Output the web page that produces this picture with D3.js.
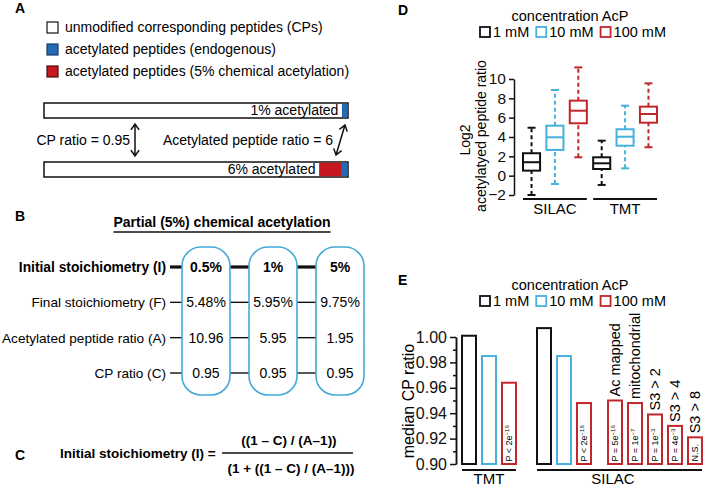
<!DOCTYPE html>
<html>
<head>
<meta charset="utf-8">
<script src="https://cdn.jsdelivr.net/npm/d3@7"></script>
<style>
  body { margin: 0; background: #fff; }
  svg { font-family: "Liberation Sans", Arial, sans-serif; }
</style>
</head>
<body>
<svg id="figure" width="706" height="490"></svg>
<script>
// panel A data
const legendA = ["unmodified corresponding peptides (CPs)", "acetylated peptides (endogenous)", "acetylated peptides (5% chemical acetylation)"];
const barLabelsA = ["1% acetylated", "6% acetylated"];
const endogenousA = [2, 2];   // schematic share of bar, %
const chemicalA = [0, 7.5];
const cpRatioText = "CP ratio = 0.95";
const acRatioText = "Acetylated peptide ratio = 6";

// panel B data
const titleB = "Partial (5%) chemical acetylation";
const rowLabelsB = ["Initial stoichiometry (I)", "Final stoichiometry (F)", "Acetylated peptide ratio (A)", "CP ratio (C)"];
const initialB = ["0.5%", "1%", "5%"];
const finalB = ["5.48%", "5.95%", "9.75%"];
const ratioB = ["10.96", "5.95", "1.95"];
const cpB = ["0.95", "0.95", "0.95"];

// panel C text
const formulaLeft = "Initial stoichiometry (I) =";
const formulaTop = "((1 \u2013 C) / (A\u20131))";
const formulaBottom = "(1 + ((1 \u2013 C) / (A\u20131)))";

// panel D data (SILAC 1/10/100 mM, TMT 1/10/100 mM)
const methodsD = ["SILAC", "TMT"];
const concLabels = ["1 mM", "10 mM", "100 mM"];
const whiskerLowD = [-2.0, -0.86, 1.9, -0.96, 0.76, 2.94];
const q1D = [0.52, 2.66, 5.42, 0.69, 3.1, 5.48];
const medianD = [1.39, 3.97, 6.72, 1.28, 4.03, 6.38];
const q3D = [2.32, 5.17, 7.76, 1.9, 4.8, 7.14];
const whiskerHighD = [4.96, 8.86, 11.2, 3.62, 7.24, 9.55];
const ticksD = [-2, 0, 2, 4, 6, 8, 10];

// panel E data
const groupE = ["TMT", "TMT", "TMT", "SILAC", "SILAC", "SILAC", "SILAC", "SILAC", "SILAC", "SILAC", "SILAC"];
const concE = ["1 mM", "10 mM", "100 mM", "1 mM", "10 mM", "100 mM", "100 mM", "100 mM", "100 mM", "100 mM", "100 mM"];
const subsetE = ["", "", "", "", "", "", "Ac mapped", "mitochondrial", "S3 > 2", "S3 > 4", "S3 > 8"];
const medianE = [1.001, 0.985, 0.964, 1.007, 0.985, 0.948, 0.950, 0.948, 0.939, 0.930, 0.921];
const pValueE = ["", "", "P < 2e^-16", "", "", "P < 2e^-16", "P = 5e^-16", "P = 1e^-7", "P = 1e^-3", "P = 4e^-3", "N.S."];
const ticksE = [0.90, 0.92, 0.94, 0.96, 0.98, 1.00];

const ink = "#111";
const blueA = "#2369b3";
const redA = "#c8171f";
const concColor = d3.scaleOrdinal().domain(concLabels).range([ink, "#46b1dc", "#c1272d"]);

const svg = d3.select("#figure");

// panel letters
[["A", 15, 13], ["B", 15, 221], ["C", 15, 460], ["D", 398, 15], ["E", 398, 285]].forEach(([l, x, y]) => {
  svg.append("text").attr("x", x).attr("y", y).style("font-size", "14px").style("font-weight", "bold").text(l);
});

// ---------- panel A ----------
const legendFills = [["#fff", ink], [blueA, "#163c66"], [redA, "#4a0a0c"]];
const legendY = d3.scalePoint().domain(legendA).range([32, 76]);
legendA.forEach((t, i) => {
  svg.append("rect").attr("x", 47).attr("y", legendY(t) - 10).attr("width", 11).attr("height", 11)
    .attr("fill", legendFills[i][0]).attr("stroke", legendFills[i][1]).attr("stroke-width", 1.2);
  svg.append("text").attr("x", 65).attr("y", legendY(t)).style("font-size", "14px").text(t);
});

const xA = d3.scaleLinear().domain([0, 100]).range([44, 348]);
const yA = d3.scalePoint().domain(barLabelsA).range([103, 162]);
const barH = 15;
barLabelsA.forEach((lab, i) => {
  const y = yA(lab);
  svg.append("rect").attr("x", xA(0)).attr("y", y).attr("width", xA(100) - xA(0)).attr("height", barH)
    .attr("fill", "#fff").attr("stroke", ink).attr("stroke-width", 1.5);
  const endoStart = 100 - endogenousA[i];
  const chemStart = endoStart - chemicalA[i];
  if (chemicalA[i] > 0) {
    svg.append("rect").attr("x", xA(chemStart)).attr("y", y + 0.75).attr("width", xA(endoStart) - xA(chemStart))
      .attr("height", barH - 1.5).attr("fill", redA);
  }
  svg.append("rect").attr("x", xA(endoStart)).attr("y", y + 0.75).attr("width", xA(100) - xA(endoStart) - 0.75)
    .attr("height", barH - 1.5).attr("fill", blueA);
  svg.append("text").attr("x", xA(chemStart) - 3.5).attr("y", y + 12).attr("text-anchor", "end")
    .style("font-size", "14px").text(lab);
});

// double headed arrows
function doubleArrow(x1, y1, x2, y2) {
  const a = Math.atan2(y2 - y1, x2 - x1), h = 7, s = 0.62;
  const head = (x, y, ang) => `M${x + h * Math.cos(ang - s)},${y + h * Math.sin(ang - s)}L${x},${y}L${x + h * Math.cos(ang + s)},${y + h * Math.sin(ang + s)}`;
  svg.append("path")
    .attr("d", `M${x1},${y1}L${x2},${y2}` + head(x1, y1, a) + head(x2, y2, a + Math.PI))
    .attr("fill", "none").attr("stroke", ink).attr("stroke-width", 1.5);
}
doubleArrow(135, 124, 135, 156);
doubleArrow(345, 125, 336, 155);
svg.append("text").attr("x", 130).attr("y", 145).attr("text-anchor", "end").style("font-size", "14px").text(cpRatioText);
svg.append("text").attr("x", 333).attr("y", 145).attr("text-anchor", "end").style("font-size", "14px").text(acRatioText);

// ---------- panel B ----------
const title = svg.append("text").attr("x", 222).attr("y", 227).attr("text-anchor", "middle")
  .style("font-size", "14px").style("font-weight", "bold").text(titleB);
const tw = title.node().getComputedTextLength();
svg.append("line").attr("x1", 222 - tw / 2).attr("x2", 222 + tw / 2).attr("y1", 232).attr("y2", 232)
  .attr("stroke", ink).attr("stroke-width", 1.3);

const xB = d3.scaleBand().domain(initialB).range([182, 364]).paddingInner(0.2836);
const yB = d3.scalePoint().domain(rowLabelsB).range([267, 373]);
const rowsB = [initialB, finalB, ratioB, cpB];

// connector lines, row labels and values
rowLabelsB.forEach((r, ri) => {
  const y = yB(r);
  const segs = [[170, xB(initialB[0])]];
  for (let c = 1; c < initialB.length; c++) segs.push([xB(initialB[c - 1]) + xB.bandwidth(), xB(initialB[c])]);
  segs.forEach(([a, b]) => {
    svg.append("line").attr("x1", a).attr("x2", b).attr("y1", y).attr("y2", y)
      .attr("stroke", ink).attr("stroke-width", ri === 0 ? 3.2 : 1.4);
  });
  svg.append("text").attr("x", 166).attr("y", y).attr("dy", "0.36em").attr("text-anchor", "end")
    .style("font-size", ri === 0 ? "13.8px" : "13.6px").style("font-weight", ri === 0 ? "bold" : "normal").text(r);
  rowsB[ri].forEach((v, ci) => {
    svg.append("text").attr("x", xB(initialB[ci]) + xB.bandwidth() / 2).attr("y", y).attr("dy", "0.36em")
      .attr("text-anchor", "middle").style("font-size", "14px").style("font-weight", ri === 0 ? "bold" : "normal").text(v);
  });
});

// rounded column outlines
svg.selectAll(".colB").data(initialB).join("rect").attr("class", "colB")
  .attr("x", d => xB(d)).attr("y", 247).attr("width", xB.bandwidth()).attr("height", 148)
  .attr("rx", 19).attr("fill", "none").attr("stroke", "#45a9d6").attr("stroke-width", 1.6);

// ---------- panel C ----------
svg.append("text").attr("x", 60).attr("y", 458).style("font-size", "13.5px").style("font-weight", "bold").text(formulaLeft);
svg.append("text").attr("x", 289).attr("y", 445).attr("text-anchor", "middle").style("font-size", "13.5px").style("font-weight", "bold").text(formulaTop);
svg.append("line").attr("x1", 222).attr("x2", 353).attr("y1", 453).attr("y2", 453).attr("stroke", ink).attr("stroke-width", 1.5);
svg.append("text").attr("x", 291).attr("y", 473).attr("text-anchor", "middle").style("font-size", "13.5px").style("font-weight", "bold").text(formulaBottom);

// ---------- concentration legend (D and E) ----------
function concLegend(y) {
  svg.append("text").attr("x", 570).attr("y", y).attr("text-anchor", "middle").style("font-size", "14.5px").text("concentration AcP");
  let x = 480;
  concLabels.forEach(c => {
    svg.append("rect").attr("x", x).attr("y", y + 6).attr("width", 10).attr("height", 10)
      .attr("fill", "none").attr("stroke", concColor(c)).attr("stroke-width", 1.8);
    const t = svg.append("text").attr("x", x + 13).attr("y", y + 16).style("font-size", "14.5px").text(c);
    x += 13 + t.node().getComputedTextLength() + 7;
  });
}

// ---------- panel D ----------
concLegend(21);
const keysD = methodsD.flatMap(m => concLabels.map(c => `${m}|${c}`));
const xD = d3.scaleBand().domain(keysD).range([523, 657]).paddingInner(0.27).paddingOuter(0);
const yD = d3.scaleLinear().domain([-2, 10]).range([195, 79]);

const gD = svg.append("g");
gD.append("g").attr("transform", "translate(514,0)")
  .call(d3.axisLeft(yD).tickValues(ticksD).tickSize(5).tickSizeOuter(0).tickPadding(3))
  .call(g => g.select(".domain").attr("stroke", ink).attr("stroke-width", 1.5))
  .call(g => g.selectAll(".tick line").attr("stroke", ink).attr("stroke-width", 1.5))
  .call(g => g.selectAll("text").attr("fill", ink).style("font-size", "15.5px").style("font-family", "Liberation Sans, Arial, sans-serif"));

keysD.forEach((k, i) => {
  const col = concColor(k.split("|")[1]);
  const cx = xD(k) + xD.bandwidth() / 2;
  const w = xD.bandwidth();
  // dashed whiskers with caps
  [[whiskerLowD[i], q1D[i]], [q3D[i], whiskerHighD[i]]].forEach(([a, b]) => {
    gD.append("line").attr("x1", cx).attr("x2", cx).attr("y1", yD(a)).attr("y2", yD(b))
      .attr("stroke", col).attr("stroke-width", 2).attr("stroke-dasharray", "4,3");
  });
  [whiskerLowD[i], whiskerHighD[i]].forEach(v => {
    gD.append("line").attr("x1", cx - 4).attr("x2", cx + 4).attr("y1", yD(v)).attr("y2", yD(v))
      .attr("stroke", col).attr("stroke-width", 2);
  });
  gD.append("rect").attr("x", xD(k)).attr("y", yD(q3D[i])).attr("width", w).attr("height", yD(q1D[i]) - yD(q3D[i]))
    .attr("fill", "#fff").attr("stroke", col).attr("stroke-width", 2);
  gD.append("line").attr("x1", xD(k)).attr("x2", xD(k) + w).attr("y1", yD(medianD[i])).attr("y2", yD(medianD[i]))
    .attr("stroke", col).attr("stroke-width", 2);
});

methodsD.forEach(m => {
  const a = xD(`${m}|${concLabels[0]}`), b = xD(`${m}|${concLabels[2]}`) + xD.bandwidth();
  gD.append("line").attr("x1", a).attr("x2", b).attr("y1", 199).attr("y2", 199).attr("stroke", ink).attr("stroke-width", 2);
  gD.append("text").attr("x", (a + b) / 2).attr("y", 214).attr("text-anchor", "middle").style("font-size", "15px").text(m);
});

gD.append("text").attr("transform", "rotate(-90)").attr("x", -140).attr("y", 470)
  .attr("text-anchor", "middle").style("font-size", "14px").text("Log2");
gD.append("text").attr("transform", "rotate(-90)").attr("x", -136).attr("y", 486)
  .attr("text-anchor", "middle").style("font-size", "14px").text("acetylatyed peptide ratio");

// ---------- panel E ----------
concLegend(290);
const keysE = medianE.map((d, i) => i);
const xE = d3.scaleBand().domain(keysE).range([459, 679]).paddingInner(0.3).paddingOuter(0.15);
// extra space between groups and between whole-set and subset bars
const offsetE = keysE.map(i => (i > 0 && groupE[i] !== groupE[0] ? 15 : 0) + (subsetE[i] !== "" ? 11 : 0));
const barX = i => xE(i) + offsetE[i];
const yE = d3.scaleLinear().domain([0.90, 1.00]).range([464, 337]);

const gE = svg.append("g");
gE.append("g").attr("transform", "translate(456,0)")
  .call(d3.axisLeft(yE).tickValues(d3.range(0.91, 1.0, 0.02)).tickSize(3).tickSizeOuter(0).tickFormat(""))
  .call(g => g.selectAll("line, path").attr("stroke", ink).attr("stroke-width", 1.5));
gE.append("g").attr("transform", "translate(456,0)")
  .call(d3.axisLeft(yE).tickValues(ticksE).tickSize(6).tickSizeOuter(0).tickPadding(3).tickFormat(d3.format(".2f")))
  .call(g => g.select(".domain").attr("stroke", ink).attr("stroke-width", 1.5))
  .call(g => g.selectAll(".tick line").attr("stroke", ink).attr("stroke-width", 1.5))
  .call(g => g.selectAll("text").attr("fill", ink).style("font-size", "16px").style("font-family", "Liberation Sans, Arial, sans-serif"));

keysE.forEach(i => {
  const x = barX(i), w = xE.bandwidth(), cx = x + w / 2;
  gE.append("rect").attr("x", x).attr("y", yE(medianE[i])).attr("width", w).attr("height", yE(0.90) - yE(medianE[i]))
    .attr("fill", "#fff").attr("stroke", concColor(concE[i])).attr("stroke-width", 2);
  if (pValueE[i]) {
    const [base, sup] = pValueE[i].split("^");
    const t = gE.append("text").attr("transform", "rotate(-90)").attr("x", -(yE(0.90) - 2.5)).attr("y", cx)
      .attr("dy", "0.35em").style("font-size", "9px").text(base);
    if (sup) t.append("tspan").attr("dy", "-0.5em").style("font-size", "6px").text(sup.replace("-", "\u2212"));
  }
  if (subsetE[i]) {
    gE.append("text").attr("transform", "rotate(-90)").attr("x", -(yE(medianE[i]) - 4)).attr("y", cx)
      .attr("dy", "0.36em").style("font-size", "14.5px").text(subsetE[i]);
  }
});

["TMT", "SILAC"].forEach(gname => {
  const idx = keysE.filter(i => groupE[i] === gname);
  const a = barX(idx[0]), b = barX(idx[idx.length - 1]) + xE.bandwidth();
  gE.append("line").attr("x1", a).attr("x2", b).attr("y1", 470).attr("y2", 470).attr("stroke", ink).attr("stroke-width", 2);
  gE.append("text").attr("x", gname === "TMT" ? (a + b) / 2 : 613).attr("y", 484).attr("text-anchor", "middle").style("font-size", "15px").text(gname);
});

gE.append("text").attr("transform", "rotate(-90)").attr("x", -401).attr("y", 414)
  .attr("text-anchor", "middle").style("font-size", "16px").text("median CP ratio");
</script>
</body>
</html>
